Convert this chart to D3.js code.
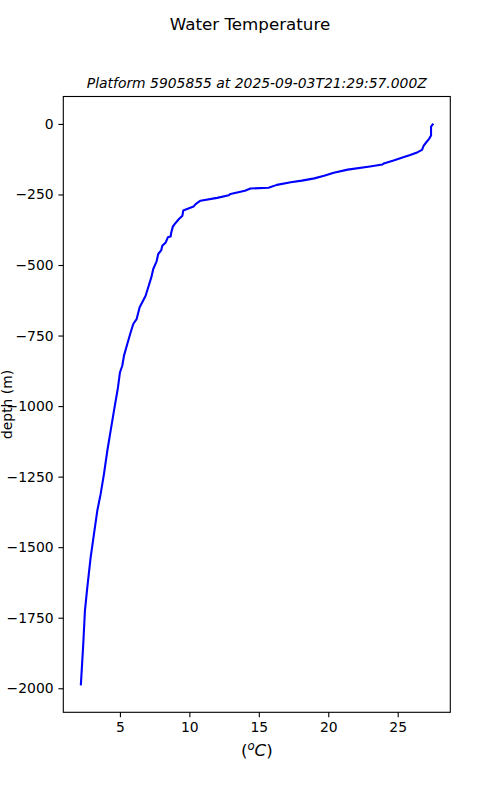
<!DOCTYPE html>
<html>
<head>
<meta charset="utf-8">
<script src="https://cdn.jsdelivr.net/npm/d3@7"></script>
<style>
  body { margin: 0; background: #fff; }
  svg text { font-family: "DejaVu Sans", sans-serif; fill: #000; }
</style>
</head>
<body>
<div id="vis"></div>
<script>
const width = 500;
const height = 800;

// profile: temperature (deg C) and depth (m, negative down)
const temperature = [27.52, 27.4, 27.4, 27.26, 27.06, 26.87, 26.75, 26.44, 25.9, 25.4, 24.7, 24.0, 23.9, 23.0,
  21.4, 20.4, 19.7, 19.0, 18.1, 17.3, 16.3, 15.7, 14.4, 14.0, 12.96, 12.84, 12.0, 10.8, 10.45, 10.3, 9.56, 9.5,
  9.25, 8.94, 8.81, 8.7, 8.65, 8.45, 8.3, 8.05, 7.98, 7.76, 7.64, 7.4, 7.26, 7.0, 6.85, 6.6, 6.42, 6.2, 5.96,
  5.77, 5.53, 5.29, 5.17, 5.0, 4.86, 4.57, 4.33, 4.09, 3.85, 3.61, 3.37, 3.13, 2.89, 2.65, 2.48, 2.36, 2.19];
const depth = [-2, -10, -41, -53, -65, -77, -92, -100, -110, -118, -130, -140, -144, -151,
  -162, -173, -184, -193, -201, -207, -216, -226, -229, -237, -248, -253, -262, -272, -284, -293, -307, -325,
  -337, -355, -364, -384, -399, -402, -420, -432, -447, -461, -487, -514, -544, -585, -609, -633, -650, -692, -709,
  -739, -780, -822, -857, -881, -934, -1017, -1088, -1159, -1241, -1312, -1371, -1454, -1537, -1643, -1726, -1844, -1986];

const xTicks = [5, 10, 15, 20, 25];
const yTicks = [0, -250, -500, -750, -1000, -1250, -1500, -1750, -2000];

const title = "Water Temperature";
const subtitle = "Platform 5905855 at 2025-09-03T21:29:57.000Z";

const margin = { left: 63.3, right: 49.7, top: 96.5, bottom: 87.7 };

window.onload = function () {
  const svg = d3.select("#vis").append("svg")
    .attr("width", width)
    .attr("height", height);

  const pw = width - margin.left - margin.right;
  const ph = height - margin.top - margin.bottom;

  // matplotlib style 5% margins
  const tExt = d3.extent(temperature);
  const dExt = d3.extent(depth);
  const tPad = (tExt[1] - tExt[0]) * 0.05;
  const dPad = (dExt[1] - dExt[0]) * 0.05;

  const x = d3.scaleLinear().domain([tExt[0] - tPad, tExt[1] + tPad]).range([0, pw]);
  const y = d3.scaleLinear().domain([dExt[0] - dPad, dExt[1] + dPad]).range([ph, 0]);

  const g = svg.append("g").attr("transform", `translate(${margin.left},${margin.top})`);

  const fmt = d => d3.format("d")(d).replace("-", "\u2212");

  const xAxis = g.append("g")
    .attr("transform", `translate(0,${ph})`)
    .call(d3.axisBottom(x).tickValues(xTicks).tickSize(4.9).tickPadding(4.8).tickFormat(fmt));
  const yAxis = g.append("g")
    .call(d3.axisLeft(y).tickValues(yTicks).tickSize(4.9).tickPadding(4.8).tickFormat(fmt));

  [xAxis, yAxis].forEach(a => {
    a.select(".domain").remove();
    a.selectAll("line").attr("stroke", "#000").attr("stroke-width", 1.1);
    a.selectAll("text").attr("font-size", "13.9px").attr("font-family", "DejaVu Sans");
  });

  const line = d3.line()
    .x((d, i) => x(temperature[i]))
    .y(d => y(d));

  g.append("path")
    .datum(depth)
    .attr("d", line)
    .attr("fill", "none")
    .attr("stroke", "#0000ff")
    .attr("stroke-width", 2.1)
    .attr("stroke-linejoin", "round")
    .attr("stroke-linecap", "square");

  // axes frame
  g.append("rect")
    .attr("width", pw)
    .attr("height", ph)
    .attr("fill", "none")
    .attr("stroke", "#000")
    .attr("stroke-width", 1.1);

  svg.append("text")
    .attr("x", width / 2)
    .attr("y", 30)
    .attr("text-anchor", "middle")
    .attr("font-size", "16.7px")
    .text(title);

  svg.append("text")
    .attr("x", margin.left + pw / 2)
    .attr("y", 88)
    .attr("text-anchor", "middle")
    .attr("font-size", "13.9px")
    .attr("font-style", "italic")
    .text(subtitle);

  // x label: (°C) with mathtext style superscript
  const xl = svg.append("text")
    .attr("x", margin.left + pw / 2)
    .attr("y", 756)
    .attr("text-anchor", "middle")
    .attr("font-size", "16.7px");
  xl.append("tspan").text("(");
  xl.append("tspan").attr("font-style", "italic").attr("font-size", "11.7px").attr("dy", -6).text("o");
  xl.append("tspan").attr("font-style", "italic").attr("dy", 6).text("C");
  xl.append("tspan").text(")");

  svg.append("text")
    .attr("transform", `translate(11.5,${margin.top + ph / 2}) rotate(-90)`)
    .attr("text-anchor", "middle")
    .attr("font-size", "13.9px")
    .text("depth (m)");
};
</script>
</body>
</html>
